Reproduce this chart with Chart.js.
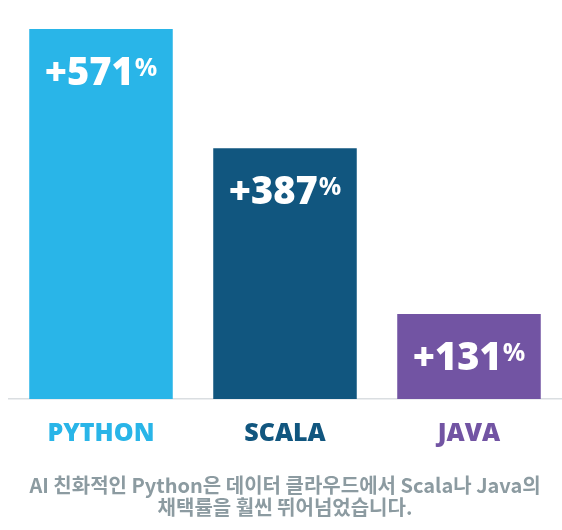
<!DOCTYPE html>
<html>
<head>
<meta charset="utf-8">
<script src="https://cdn.jsdelivr.net/npm/chart.js@4"></script>
<style>
  html, body { margin: 0; padding: 0; background: #fff; }
  #wrap { width: 562px; height: 530px; }
</style>
</head>
<body>
<div id="wrap"><canvas id="barChart"></canvas></div>
<script>
// chart data
let languages = ['PYTHON', 'SCALA', 'JAVA'];
let growth = [571, 387, 131];
let barColors = ['#29B5E8', '#11567F', '#7254A3'];
let caption = ['AI 친화적인 Python은 데이터 클라우드에서 Scala나 Java의', '채택률을 훨씬 뛰어넘었습니다.'];

let numFont = '"Open Sans", "Lato", sans-serif';

// draws the "+571%" label inside each bar
let valueLabels = {
    id: 'valueLabels',
    afterDatasetsDraw: (chart) => {
        let ctx = chart.ctx;
        let meta = chart.getDatasetMeta(0);
        meta.data.forEach((bar, i) => {
            let big = '+' + growth[i];
            ctx.save();
            ctx.fillStyle = '#fff';
            ctx.textBaseline = 'alphabetic';
            ctx.font = '800 38px ' + numFont;
            let w1 = ctx.measureText(big).width;
            ctx.font = '700 25px ' + numFont;
            let w2 = ctx.measureText('%').width;
            let left = bar.x - (w1 + w2 + 1) / 2;
            let base = bar.y + 56;
            ctx.font = '800 38px ' + numFont;
            ctx.fillText(big, left, base);
            ctx.font = '700 25px ' + numFont;
            ctx.fillText('%', left + w1 + 1, base - 9);
            ctx.restore();
        });
    }
};

let ctx = document.getElementById('barChart');
let myChart = new Chart(ctx, {
    type: 'bar',
    data: {
        labels: languages,
        datasets: [{
            data: growth,
            backgroundColor: barColors,
            borderWidth: 0,
            barPercentage: 0.78,
            categoryPercentage: 1
        }]
    },
    options: {
        responsive: true,
        maintainAspectRatio: false,
        animation: false,
        layout: { padding: { top: 29, left: 9, right: 1, bottom: 12 } },
        plugins: {
            legend: { display: false },
            tooltip: { enabled: false },
            title: {
                display: true,
                position: 'bottom',
                text: caption,
                color: '#8C9BA1',
                font: { family: '"Noto Sans CJK KR", sans-serif', size: 20, weight: 'bold', lineHeight: 1.1 },
                padding: { top: 5, bottom: 0 }
            }
        },
        scales: {
            x: {
                grid: { display: false, drawTicks: false },
                border: { display: true, color: '#DADEE1', width: 1.5 },
                ticks: {
                    color: barColors,
                    padding: 20,
                    font: { family: numFont, size: 25, weight: '800' }
                }
            },
            y: {
                display: false,
                min: 0,
                max: 571
            }
        }
    },
    plugins: [valueLabels]
});
</script>
</body>
</html>
